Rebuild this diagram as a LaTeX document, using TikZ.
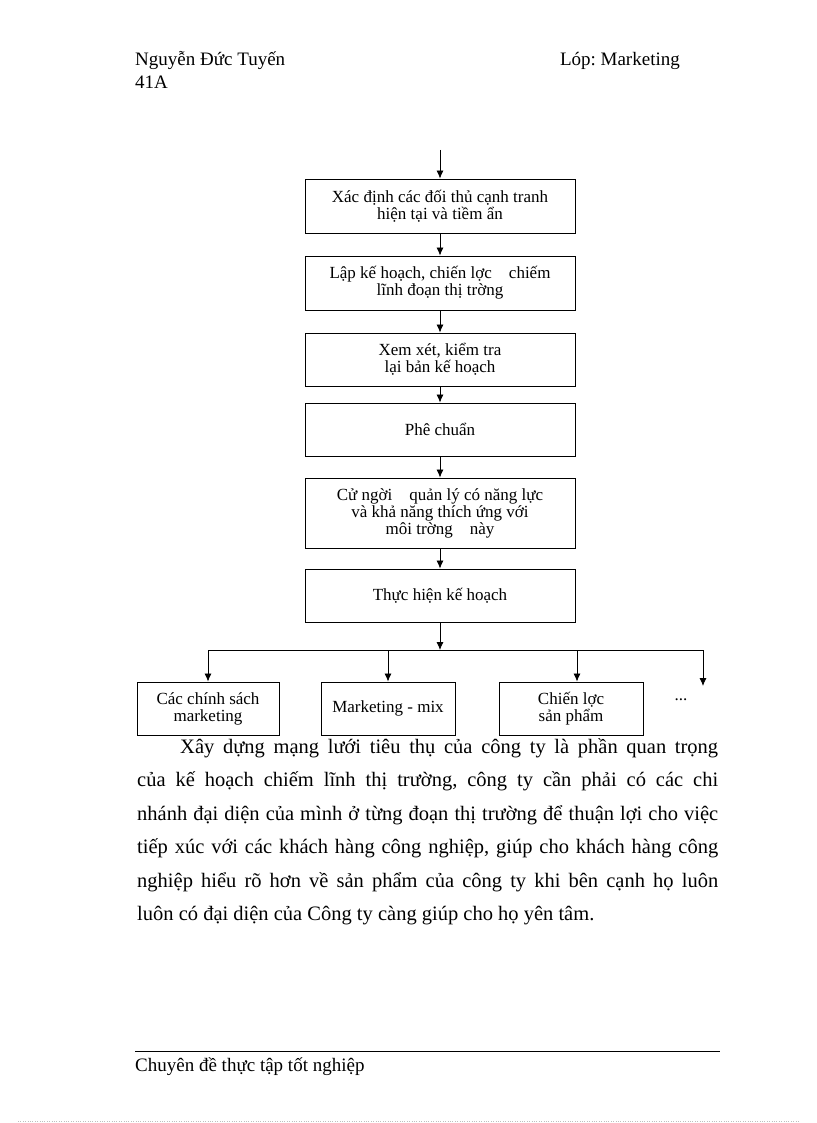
\documentclass[tikz,border=0pt]{standalone}
\usepackage{fontspec}
\setmainfont{Liberation Serif}
\usetikzlibrary{arrows.meta,positioning}
\frenchspacing

\tikzset{
  texto/.style={inner sep=0pt, font=\fontsize{19}{22}\selectfont},
  cuerpo/.style={inner sep=0pt, font=\fontsize{20.5}{33.5}\selectfont},
  paso/.style={draw, line width=0.9pt, minimum width=270pt, minimum height=54pt,
    inner sep=0pt, align=center, font=\fontsize{17}{17}\selectfont},
  rama/.style={paso, minimum height=53pt},
  flecha/.style={-{Latex[length=8pt,width=7pt]}, line width=0.8pt},
  linea/.style={line width=0.8pt}
}

\begin{document}
\begin{tikzpicture}[x=1pt,y=-1pt]
        % Paso 1: Fija el marco de la pagina
        \useasboundingbox (0,0) rectangle (816,1123);

        % Paso 2: Escribe el encabezado
        \node[texto, anchor=base west] (autor) at (135,66) {Nguyễn Đức Tuyến};
        \node[texto, anchor=base west] (clase) at (135,89) {41A};
        \node[texto, anchor=base east] (lop) at (680,66) {Lóp: Marketing};

        % Paso 3: Dibuja las cajas del flujo
        \node[paso] (dinh) at (440,206) {Xác định các đối thủ cạnh tranh\\hiện tại và tiềm ẩn};
        \node[paso] (lap) at (440,283) {Lập kế hoạch, chiến lợc\quad chiếm\\lĩnh đoạn thị trờng};
        \node[paso, minimum height=53pt] (xem) at (440,359.5) {Xem xét, kiểm tra\\lại bản kế hoạch};
        \node[paso, minimum height=53pt] (phe) at (440,429.5) {Phê chuẩn};
        \node[paso, minimum height=70pt] (cu) at (440,513) {Cử ngời\quad quản lý có năng lực\\và khả năng thích ứng với\\môi trờng\quad này};
        \node[paso, minimum height=53pt] (thuc) at (440,595.5) {Thực hiện kế hoạch};

        % Paso 4: Dibuja las cajas de las ramas
        \node[rama, minimum width=142pt] (chinh) at (208,708.5) {Các chính sách\\marketing};
        \node[rama, minimum width=134pt] (mix) at (388,708.5) {Marketing - mix};
        \node[rama, minimum width=144pt] (sp) at (571,708.5) {Chiến lợc\\sản phẩm};
        \node[inner sep=0pt, font=\fontsize{17}{17}\selectfont] (mas) at (681,700) {...};

        % Paso 5: Une las cajas con flechas
        \coordinate (inicio) at (440,150);
        \draw[flecha] (inicio) -- (dinh);
        \draw[flecha] (dinh) -- (lap);
        \draw[flecha] (lap) -- (xem);
        \draw[flecha] (xem) -- (phe);
        \draw[flecha] (phe) -- (cu);
        \draw[flecha] (cu) -- (thuc);

        % Paso 6: Reparte hacia las ramas
        \coordinate (bus) at (440,650);
        \coordinate (busA) at (208,650);
        \coordinate (busB) at (388,650);
        \coordinate (busC) at (577,650);
        \coordinate (busD) at (703,650);
        \coordinate (fin) at (703,686);
        \draw[flecha] (thuc) -- (bus);
        \draw[linea] (busA) -- (busD);
        \draw[flecha] (busA) -- (chinh);
        \draw[flecha] (busB) -- (mix);
        \draw[flecha] (busC) -- (busC |- sp.north);
        \draw[flecha] (busD) -- (fin);

        % Paso 7: Agrega el parrafo
        \node[cuerpo, anchor=base west] (p1) at (180,753) {\makebox[538pt][s]{Xây dựng mạng lưới tiêu thụ của công ty là phần quan trọng}};
        \node[cuerpo, anchor=base west] (p2) at (137,786.5) {\makebox[581pt][s]{của kế hoạch chiếm lĩnh thị trường, công ty cần phải có các chi}};
        \node[cuerpo, anchor=base west] (p3) at (137,820) {\makebox[581pt][s]{nhánh đại diện của mình ở từng đoạn thị trường để thuận lợi cho việc}};
        \node[cuerpo, anchor=base west] (p4) at (137,853.5) {\makebox[581pt][s]{tiếp xúc với các khách hàng công nghiệp, giúp cho khách hàng công}};
        \node[cuerpo, anchor=base west] (p5) at (137,887) {\makebox[581pt][s]{nghiệp hiểu rõ hơn về sản phẩm của công ty khi bên cạnh họ luôn}};
        \node[cuerpo, anchor=base west] (p6) at (137,920.5) {luôn có đại diện của Công ty càng giúp cho họ yên tâm.};

        % Paso 8: Agrega el pie de pagina
        \coordinate (pieI) at (135,1051);
        \coordinate (pieD) at (720,1051);
        \draw[linea] (pieI) -- (pieD);
        \node[texto, anchor=base west] (pie) at (135,1071) {Chuyên đề thực tập tốt nghiệp};
        \draw[gray!50, dotted] (18,1121) -- (800,1121);
\end{tikzpicture}
\end{document}
